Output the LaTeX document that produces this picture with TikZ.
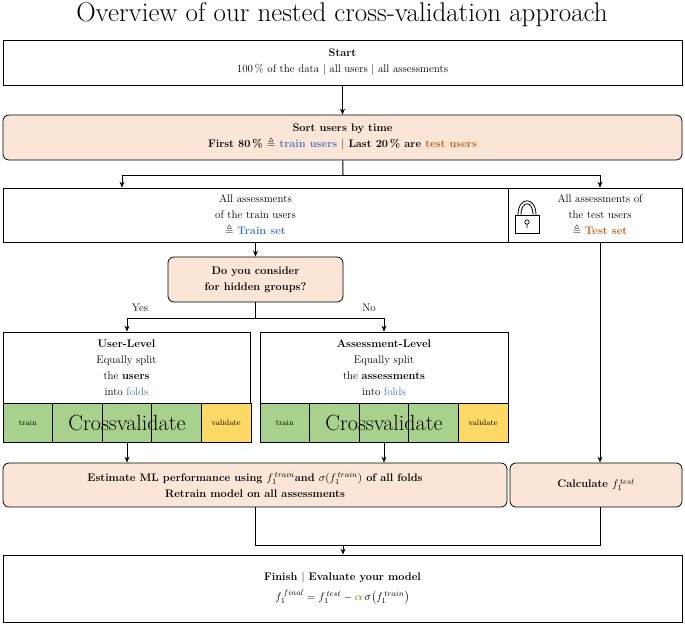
\documentclass[tikz,border=0pt]{standalone}
\usepackage{amsmath,amssymb}
\usetikzlibrary{arrows.meta}
\begin{document}
\definecolor{peach}{HTML}{FBE5D6}
\definecolor{grn}{HTML}{A9D18E}
\definecolor{yel}{HTML}{FFD966}
\definecolor{blu}{HTML}{4472C4}
\definecolor{org}{HTML}{C55A11}
\begin{tikzpicture}[x=1pt,y=-1pt,
  box/.style={draw,line width=0.8pt,align=center,inner sep=0pt,font=\fontsize{11}{16}\selectfont},
  rbox/.style={box,fill=peach,rounded corners=6pt},
  cell/.style={draw,line width=0.8pt,fill=grn,inner sep=0pt},
  arr/.style={-{Stealth[length=6pt,width=5pt]},line width=1pt},
  ln/.style={line width=1pt}]
\useasboundingbox (0,0) rectangle (685,625);
\node (title) at (342,15) {\fontsize{27}{30}\selectfont Overview of our nested cross-validation approach};
\node[box,minimum width=679pt,minimum height=45pt] (start) at (342.5,62.5) {\textbf{Start}\\100\,\% of the data $|$ all users $|$ all assessments};
\node[rbox,minimum width=679pt,minimum height=45pt] (sort) at (342.5,137.5) {\textbf{Sort users by time}\\\textbf{First 80\,\% $\triangleq$ \textcolor{blu}{train users} $|$ Last 20\,\% are \textcolor{org}{test users}}};
\draw[arr] (start) -- (sort);
\node[box,minimum width=505pt,minimum height=54pt] (train) at (255.5,215) {All assessments\\of the train users\\$\triangleq$ \textbf{\textcolor{blu}{Train set}}};
\node[box,minimum width=174pt,minimum height=54pt] (test) at (595,215) {};
\node[align=center,font=\fontsize{11}{16}\selectfont] (testtxt) at (600,215) {All assessments of\\the test users\\$\triangleq$ \textbf{\textcolor{org}{Test set}}};
% lock
\draw[line width=0.8pt] (518,215) .. controls (518,196) and (536,196) .. (536,215);
\draw[line width=0.8pt] (521,215) .. controls (521,200) and (533,200) .. (533,215);
\node[draw,line width=0.8pt,fill=white,minimum width=24pt,minimum height=18pt,inner sep=0pt] (lock) at (527,224) {};
\draw[line width=0.7pt] (527,222) circle (2.2pt) (527,224.5) -- (527,228);
\coordinate (j1) at (343,175);
\coordinate (jl) at (122,175);
\coordinate (jr) at (600,175);
\draw[ln] (sort) -- (j1);
\draw[ln] (jl) -- (jr);
\draw[arr] (jl) -- (jl|-train.north);
\draw[arr] (jr) -- (jr|-test.north);
\node[rbox,minimum width=175pt,minimum height=45pt] (q) at (255.5,279.5) {\textbf{Do you consider}\\\textbf{for hidden groups?}};
\draw[arr] (train.south-|q.north) -- (q.north);
\coordinate (j2) at (255.5,318);
\coordinate (ql) at (127,318);
\coordinate (qr) at (384,318);
\draw[ln] (q.south) -- (j2);
\draw[ln] (ql) -- (qr);
\node[font=\fontsize{11}{14}\selectfont] (yes) at (140,308) {Yes};
\node[font=\fontsize{11}{14}\selectfont] (no) at (369,308) {No};
\node[box,minimum width=247pt,minimum height=71pt] (ul) at (126.5,367.5) {\textbf{User-Level}\\Equally split\\the \textbf{users}\\into \textcolor{blu}{folds}};
\node[box,minimum width=248pt,minimum height=71pt] (al) at (384,367.5) {\textbf{Assessment-Level}\\Equally split\\the \textbf{assessments}\\into \textcolor{blu}{folds}};
\draw[arr] (ql) -- (ql|-ul.north);
\draw[arr] (qr) -- (qr|-al.north);
% strips
\foreach \n/\x in {a/3,b/260}{
  \foreach \i in {0,1,2,3}{
    \node[cell,minimum width=49.6pt,minimum height=39pt] (c\n\i) at ({\x+24.8+49.6*\i},422.5) {};
  }
  \node[cell,fill=yel,minimum width=49.6pt,minimum height=39pt] (c\n4) at ({\x+24.8+49.6*4},422.5) {};
  \node[font=\fontsize{8}{10}\selectfont] (tr\n) at (c\n0) {train};
  \node[font=\fontsize{8}{10}\selectfont] (va\n) at (c\n4) {validate};
  \node[font=\fontsize{22}{24}\selectfont] (cv\n) at (c\n2) {Crossvalidate};
}
\node[rbox,minimum width=504pt,minimum height=44pt] (est) at (255,485) {\textbf{Estimate ML performance using $f_1^{\,train}$and $\sigma(f_1^{\,train})$ of all folds}\\\textbf{Retrain model on all assessments}};
\node[rbox,minimum width=172pt,minimum height=44pt] (calc) at (596,485) {\textbf{Calculate $f_1^{\,test}$}};
\draw[arr] (ca2.south) -- (ca2.south|-est.north);
\draw[arr] (cb2.south) -- (cb2.south|-est.north);
\draw[arr] (test.south-|jr) -- (jr|-calc.north);
\node[box,minimum width=679pt,minimum height=67pt] (fin) at (342.5,588.5) {\textbf{Finish $|$ Evaluate your model}\\[4pt]$f_1^{\,final}=f_1^{\,test}-\textcolor{yel!70!black}{\boldsymbol{\alpha}}\,\sigma\bigl(f_1^{\,train}\bigr)$};
\coordinate (bl) at (255,545);
\coordinate (br) at (600,545);
\coordinate (bm) at (343,545);
\draw[ln] (est.south-|bl) -- (bl) -- (br) -- (calc.south-|br);
\draw[arr] (bm) -- (fin.north-|bm);
\end{tikzpicture}
\end{document}
